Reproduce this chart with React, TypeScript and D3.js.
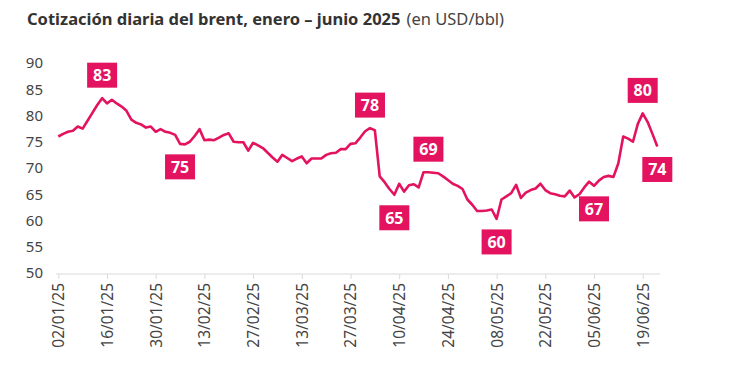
import React, { useEffect, useRef } from 'react'
import * as d3 from 'd3'

const WIDTH = 733
const HEIGHT = 366
const PINK = '#e3135f'
const FONT = "'Noto Sans', sans-serif"

const tickLabels = [
  '02/01/25', '16/01/25', '30/01/25', '13/02/25', '27/02/25', '13/03/25', '27/03/25',
  '10/04/25', '24/04/25', '08/05/25', '22/05/25', '05/06/25', '19/06/25',
]

const yTicks = [50, 55, 60, 65, 70, 75, 80, 85, 90]

// cotización diaria (USD/bbl), una por sesión
const brent = [
  76.0, 76.5, 76.9, 77.1, 77.9, 77.5, 79.0, 80.5, 82.0, 83.3,
  82.3, 83.0, 82.3, 81.7, 80.9, 79.2, 78.6, 78.3, 77.7, 77.9,
  76.9, 77.4, 76.9, 76.7, 76.3, 74.6, 74.5, 75.0, 76.1, 77.4,
  75.3, 75.4, 75.3, 75.8, 76.3, 76.6, 75.0, 74.9, 74.9, 73.3,
  74.8, 74.3, 73.8, 72.9, 72.0, 71.2, 72.5, 71.9, 71.3, 71.8,
  72.2, 70.9, 71.8, 71.8, 71.8, 72.5, 72.8, 72.9, 73.6, 73.6,
  74.6, 74.7, 75.8, 77.0, 77.6, 77.2, 68.4, 67.3, 66.0, 64.9,
  67.0, 65.5, 66.7, 66.9, 66.3, 69.2, 69.2, 69.1, 69.0, 68.4,
  67.7, 67.0, 66.6, 66.0, 64.0, 63.0, 61.8, 61.8, 61.9, 62.1,
  60.3, 64.0, 64.6, 65.2, 66.8, 64.3, 65.3, 65.8, 66.1, 67.0,
  65.8, 65.2, 65.0, 64.7, 64.6, 65.7, 64.4, 65.0, 66.3, 67.4,
  66.6, 67.6, 68.3, 68.5, 68.3, 70.9, 76.0, 75.6, 75.0, 78.4,
  80.4, 78.8, 76.5, 74.1,
]

const labelIdx = [9, 25, 64, 69, 76, 90, 110, 120, 123]
const labelSide = ['up', 'down', 'up', 'down', 'up', 'down', 'down', 'up', 'down']

const App = () => {
  const ref = useRef<SVGSVGElement>(null)

  useEffect(() => {
    document.body.style.margin = '0'
    const svg = d3.select(ref.current)
    svg.selectAll('*').remove()

    const x = d3.scaleLinear().domain([0, 120]).range([58.3, 642.7])
    const y = d3.scaleLinear().domain([50, 90]).range([273, 63])

    // título
    const title = svg
      .append('text')
      .attr('x', 27)
      .attr('y', 25)
      .style('font-family', FONT)
    title
      .append('tspan')
      .attr('font-weight', 700)
      .attr('font-size', 16.5)
      .attr('fill', '#333')
      .text('Cotización diaria del brent, enero – junio 2025')
    title
      .append('tspan')
      .attr('dx', 6)
      .attr('font-size', 16.5)
      .attr('fill', '#444')
      .text('(en USD/bbl)')

    // eje Y
    svg
      .append('g')
      .attr('transform', 'translate(56,0)')
      .call(d3.axisLeft(y).tickValues(yTicks).tickSize(0).tickPadding(13))
      .call(g => g.select('.domain').remove())
      .call(g =>
        g.selectAll('text').style('font-family', FONT).attr('font-size', 15).attr('fill', '#444')
      )

    // eje X
    const xAxis = svg.append('g').attr('transform', `translate(0,${y(50) + 1})`)
    xAxis
      .call(
        d3
          .axisBottom(x)
          .tickValues(d3.range(0, 121, 10))
          .tickFormat((d, i) => tickLabels[i])
          .tickSize(5)
          .tickSizeOuter(0)
      )
      .call(g => g.select('.domain').remove())
      .call(g => g.selectAll('line').attr('stroke', '#d9d9d9'))
      .call(g =>
        g
          .selectAll('text')
          .style('font-family', FONT)
          .attr('font-size', 15.5)
          .attr('fill', '#444')
          .attr('transform', 'rotate(-90)')
          .attr('text-anchor', 'end')
          .attr('x', -9)
          .attr('y', 0)
          .attr('dy', '0.35em')
      )
    xAxis
      .append('line')
      .attr('x1', 56)
      .attr('x2', 660)
      .attr('stroke', '#d9d9d9')

    // línea
    const line = d3
      .line<number>()
      .x((d, i) => x(i))
      .y(d => y(d))

    svg
      .append('path')
      .datum(brent)
      .attr('d', line)
      .attr('fill', 'none')
      .attr('stroke', PINK)
      .attr('stroke-width', 2.6)
      .attr('stroke-linejoin', 'round')

    // etiquetas
    const labels = svg
      .append('g')
      .selectAll('g')
      .data(labelIdx)
      .join('g')
      .attr('transform', (d, i) => {
        const off = labelSide[i] === 'up' ? -23 : 23
        return `translate(${x(d)},${y(brent[d]) + off})`
      })
    labels
      .append('rect')
      .attr('x', -15)
      .attr('y', -12.5)
      .attr('width', 30)
      .attr('height', 25)
      .attr('fill', PINK)
    labels
      .append('text')
      .attr('text-anchor', 'middle')
      .attr('dy', '0.36em')
      .style('font-family', FONT)
      .attr('font-weight', 700)
      .attr('font-size', 16)
      .attr('fill', '#fff')
      .text(d => Math.round(brent[d]))
  }, [])

  return <svg ref={ref} width={WIDTH} height={HEIGHT} style={{ display: 'block', background: '#fff' }} />
}

export default App
